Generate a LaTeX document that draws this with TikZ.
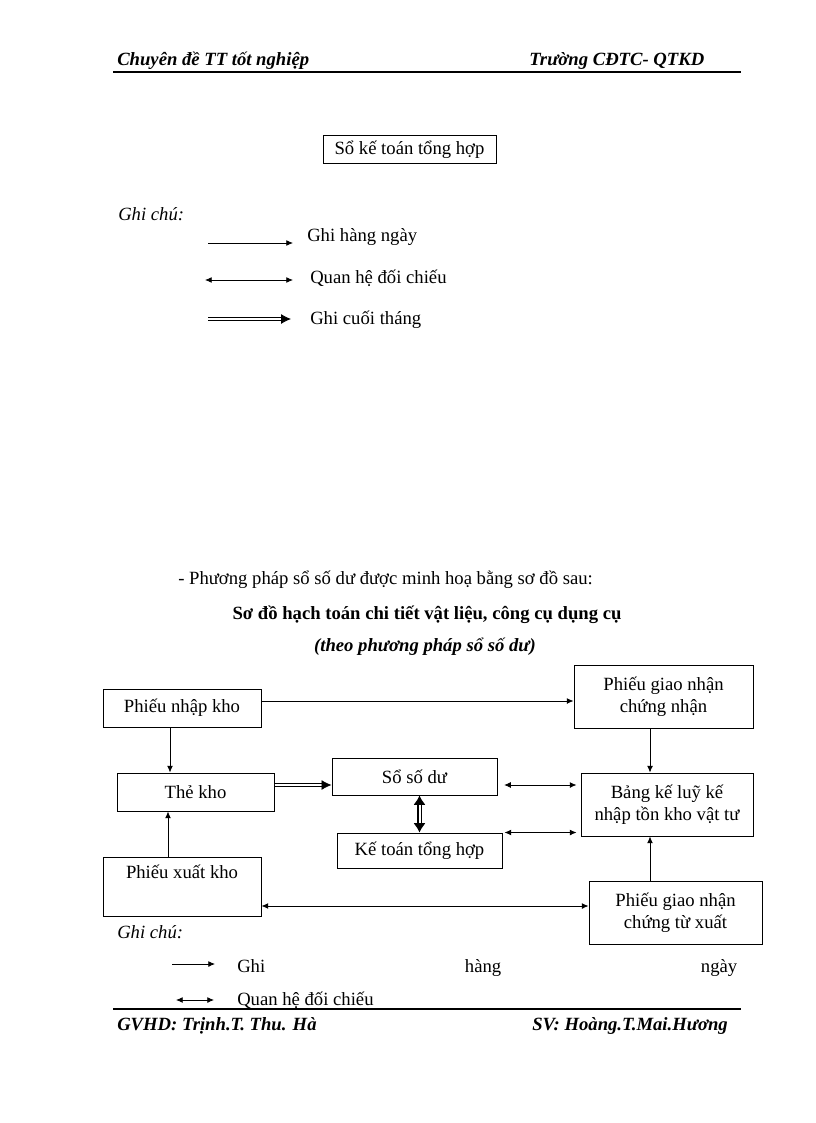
\documentclass[tikz,border=0pt]{standalone}
\usepackage{fontspec}
\setmainfont{Liberation Serif}
\usetikzlibrary{positioning,arrows.meta}
\newdimen\px
\px=0.75pt
\tikzset{
blk/.style 2 args={
  rectangle,
  draw=black,
  line width=0.75pt,
  align=center,
  inner sep=0pt,
  minimum width=#1\px,
  minimum height=#2\px,
  font=\fontsize{14}{16.5}\selectfont
  }
}
\tikzset{
  lbl/.style={anchor=base west,inner sep=0pt,font=\fontsize{14}{16.5}\selectfont},
  lblit/.style={lbl,font=\fontsize{14}{16.5}\selectfont\itshape},
  hdr/.style={lbl,font=\fontsize{14}{16.5}\selectfont\bfseries\itshape},
  hline/.style={line width=1.6pt},
  daily/.style={->,line width=0.6pt},
  cmp/.style={<->,line width=0.6pt},
  monthly/.style={-{Latex[length=7.5pt,width=7.5pt]},double,double distance=1.1pt,line width=0.6pt},
  bigcmp/.style={{Latex[length=7pt,width=9pt]}-{Latex[length=7pt,width=9pt]},double,double distance=1.5pt,line width=0.9pt}
}

\begin{document}
\begin{tikzpicture}[x=0.75pt,y=-0.75pt,>={Latex[length=5pt,width=4.4pt]}]
\useasboundingbox (0,0) rectangle (816,1123);

% header
\node[hdr] (headL) at (117,66) {Chuyên đề TT tốt nghiệp};
\node[hdr] (headR) at (529,66) {Trường CĐTC- QTKD};
\coordinate (hl1) at (113,72);
\coordinate (hl2) at (741,72);
\draw[hline] (hl1) -- (hl2);

\node[blk={173}{28}] (sktth) at (409.5,150) {Sổ kế toán tổng hợp};

% legend
\node[lblit] (note1) at (118,220) {Ghi chú:};

\coordinate(d1a) at (208,243);
\coordinate(d1b) at (293,243);
\draw[daily] (d1a) -- (d1b);
\node[lbl] (d1t) at (307,241) {Ghi hàng ngày};

\coordinate(c1a) at (205,280);
\coordinate(c1b) at (293,280);
\draw[cmp] (c1a) -- (c1b);
\node[lbl] (c1t) at (310,283) {Quan hệ đối chiếu};

\coordinate(m1a) at (208,319);
\coordinate(m1b) at (291,319);
\draw[monthly] (m1a) -- (m1b);
\node[lbl] (m1t) at (310,324) {Ghi cuối tháng};

% titles
\node[lbl] (intro) at (178,584) {- Phương pháp sổ số dư được minh hoạ bằng sơ đồ sau:};
\node[lbl,anchor=base,font=\fontsize{14}{16.5}\selectfont\bfseries] (title) at (427,619)
  {Sơ đồ hạch toán chi tiết vật liệu, công cụ dụng cụ};
\node[hdr,anchor=base] (subtitle) at (425,651) {(theo phương pháp sổ số dư)};

% boxes
\node[blk={158}{38}] (pnk) at (182,708) {Phiếu nhập kho};
\node[blk={179}{63}] (pgncn) at (663.5,696.5) {Phiếu giao nhận\\chứng nhận};
\node[blk={157}{38}] (thekho) at (195.5,792) {Thẻ kho};
\node[blk={165}{37}] (ssd) at (414.5,776.5) {Sổ số dư};
\node[blk={165}{35}] (kttth) at (419.5,850.5) {Kế toán tổng hợp};
\node[blk={172}{63}] (bangke) at (667,804.5) {Bảng kế luỹ kế\\nhập tồn kho vật tư};
\node[blk={158}{59}] (pxk) at (182,886.5) {Phiếu xuất kho\\\strut};
\node[blk={173}{63}] (pgnctx) at (675.5,912.5) {Phiếu giao nhận\\chứng từ xuất};

% connectors
\draw[daily] ([yshift=7\px]pnk.east) -- ([yshift=7\px]pnk.east -| pgncn.west);
\draw[daily] ([xshift=-12\px]pnk.south) -- ([xshift=-12\px]pnk.south |- thekho.north);
\draw[daily] ([xshift=-14\px]pxk.north) -- ([xshift=-14\px]pxk.north |- thekho.south);
\draw[monthly] ([yshift=7\px]thekho.east) -- ([yshift=7\px]thekho.east -| ssd.west);
\draw[bigcmp] (kttth.north |- ssd.south) -- (kttth.north);
\draw[cmp,shorten <=5pt,shorten >=3pt] ([yshift=-8.5\px]ssd.east) -- ([yshift=-8.5\px]ssd.east -| bangke.west);
\draw[cmp,shorten <=1.5pt,shorten >=3pt] (kttth.north east) -- (kttth.north east -| bangke.west);
\draw[cmp] ([yshift=-19.5\px]pxk.east) -- ([yshift=-19.5\px]pxk.east -| pgnctx.west);
\draw[daily] ([xshift=-13.5\px]pgncn.south) -- ([xshift=-13.5\px]pgncn.south |- bangke.north);
\draw[daily] ([xshift=-25.5\px]pgnctx.north) -- ([xshift=-25.5\px]pgnctx.north |- bangke.south);

% legend 2
\node[lblit] (note2) at (117,938) {Ghi chú:};

\coordinate(d2a) at (172,964);
\coordinate(d2b) at (215,964);
\draw[daily] (d2a) -- (d2b);
\node[lbl] (d2t) at (237,972) {\makebox[500\px][s]{Ghi hàng ngày}};

\coordinate(c2a) at (176,1000);
\coordinate(c2b) at (214,1000);
\draw[cmp] (c2a) -- (c2b);
\node[lbl] (c2t) at (237,1005) {Quan hệ đối chiếu};

% footer
\coordinate (fl1) at (113,1009);
\coordinate (fl2) at (741,1009);
\draw[hline] (fl1) -- (fl2);
\node[hdr] (footL) at (117,1030) {GVHD: Trịnh.T. Thu. Hà};
\node[hdr,anchor=base east] (footR) at (728,1030) {SV: Hoàng.T.Mai.Hương};

\end{tikzpicture}
\end{document}
